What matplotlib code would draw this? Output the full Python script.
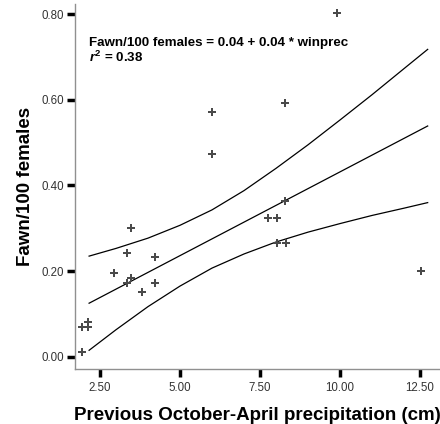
import matplotlib
matplotlib.use("Agg")
import matplotlib.pyplot as plt

plt.rcParams['font.family'] = ['Liberation Sans', 'DejaVu Sans']
plt.rcParams['mathtext.fontset'] = 'custom'
plt.rcParams['mathtext.rm'] = 'Liberation Sans:bold'
plt.rcParams['mathtext.it'] = 'Liberation Sans:italic:bold'
plt.rcParams['mathtext.bf'] = 'Liberation Sans:bold'

# observed points: winter precipitation (cm) vs fawns per female
winprec = [1.93, 1.93, 2.13, 2.13, 2.95, 3.34, 3.48, 3.34, 3.48, 3.80, 4.22,
           4.22, 6.01, 6.01, 9.90, 8.28, 8.28, 7.76, 8.04, 8.04, 8.31, 12.53]
fawns = [0.012, 0.070, 0.070, 0.082, 0.195, 0.243, 0.301, 0.173, 0.185, 0.152,
         0.232, 0.173, 0.572, 0.473, 0.804, 0.593, 0.364, 0.323, 0.323, 0.265,
         0.265, 0.201]

# fitted line and confidence band
fit_x = [2.16, 12.74]
fit_y = [0.125, 0.539]
band_x = [2.16, 3.0, 4.0, 5.0, 6.0, 7.0, 8.0, 9.0, 10.0, 11.0, 12.0, 12.74]
band_hi = [0.235, 0.253, 0.277, 0.307, 0.343, 0.388, 0.440, 0.495, 0.553, 0.612, 0.673, 0.718]
band_lo = [0.015, 0.063, 0.117, 0.165, 0.207, 0.240, 0.268, 0.291, 0.311, 0.330, 0.347, 0.360]

xticks = [2.5, 5.0, 7.5, 10.0, 12.5]
yticks = [0.0, 0.2, 0.4, 0.6, 0.8]

fig = plt.figure(figsize=(4.4, 4.24), dpi=100)
ax = fig.add_axes([0.1705, 0.129, 0.8295, 0.8616])

ax.plot(fit_x, fit_y, color='black', lw=0.9)
ax.plot(band_x, band_hi, color='black', lw=0.9)
ax.plot(band_x, band_lo, color='black', lw=0.9)
ax.plot(winprec, fawns, linestyle='none', marker='P', markersize=5.8,
        color='#4a4a4a', markeredgewidth=0)

ax.set_xlim(1.72, 13.125)
ax.set_ylim(-0.0294, 0.824)
ax.set_xticks(xticks)
ax.set_xticklabels([f"{v:.2f}" for v in xticks])
ax.set_yticks(yticks)
ax.set_yticklabels([f"{v:.2f}" for v in yticks])

for s in ['top', 'right']:
    ax.spines[s].set_visible(False)
for s in ['left', 'bottom']:
    ax.spines[s].set_color('#909090')
    ax.spines[s].set_linewidth(1.0)
ax.tick_params(direction='out', length=6, width=2.5, color='black',
               labelsize=8.3, labelcolor='#333333')
ax.tick_params(axis='x', pad=3.5)
ax.tick_params(axis='y', pad=2)

ax.set_xlabel("Previous October-April precipitation (cm)", fontsize=13.5,
              fontweight='bold', labelpad=9)
ax.set_ylabel("Fawn/100 females", fontsize=13.5, fontweight='bold', labelpad=5)

ax.text(2.16, 0.733, "Fawn/100 females = 0.04 + 0.04 * winprec",
        fontsize=9.6, fontweight='bold', va='center', ha='left')
ax.text(2.16, 0.700, r"$r^2$ = 0.38", fontsize=9.6, fontweight='bold',
        va='center', ha='left')

fig.savefig("out.png", dpi=100)
